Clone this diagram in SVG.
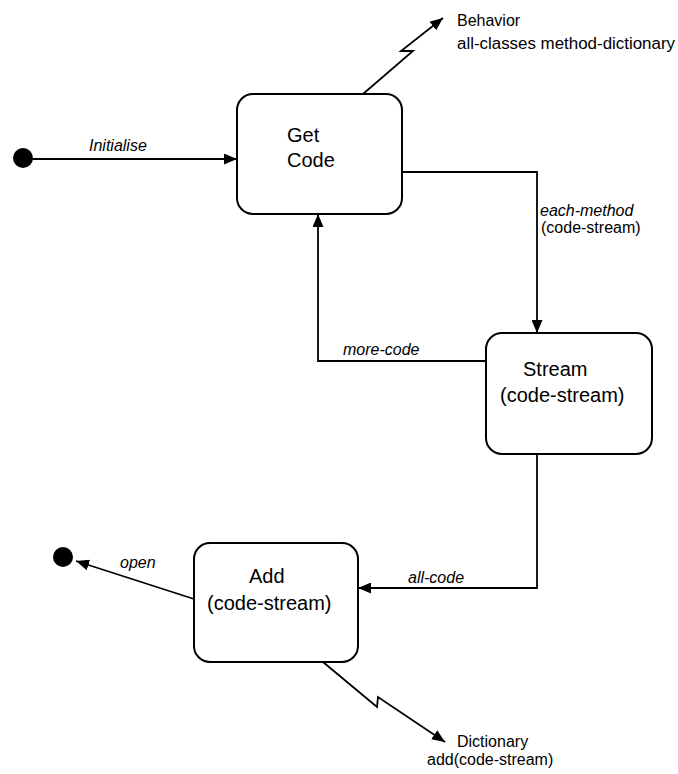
<svg xmlns="http://www.w3.org/2000/svg" width="678" height="774" viewBox="0 0 678 774">
  <defs>
    <marker id="arr" viewBox="0 0 13 11" refX="13" refY="5.5" markerWidth="13" markerHeight="11" markerUnits="userSpaceOnUse" orient="auto">
      <path d="M0,0 L13,5.5 L0,11 z" fill="#000"/>
    </marker>
  </defs>
  <style>
    .state { fill: #fff; stroke: #000; stroke-width: 2; }
    .conn { fill: none; stroke: #000; stroke-width: 1.8; marker-end: url(#arr); }
    .name { font-family: "Liberation Sans", Arial, sans-serif; font-size: 20px; fill: #000; }
    .lbl { font-family: "Liberation Sans", Arial, sans-serif; font-size: 16px; fill: #000; }
    .ev { font-family: "Liberation Sans", Arial, sans-serif; font-size: 16px; font-style: italic; fill: #000; }
    .dot { fill: #000; }
  </style>
  <rect width="678" height="774" fill="#fff"/>

  <g id="connectors">
    <path class="conn" d="M32,159 L237,159"/>
    <path class="conn" d="M363,94 L413,51 L401,51 L443,18"/>
    <path class="conn" d="M402,172 L537,172 L537,333"/>
    <path class="conn" d="M486,361 L318,361 L318,214"/>
    <path class="conn" d="M537,454 L537,588 L358,588"/>
    <path class="conn" d="M194,599 L76,561"/>
    <path class="conn" d="M323,662 L377,707 L378,697 L445,742"/>
    <text class="ev" x="89" y="151" font-size="15">Initialise</text>
    <text class="ev" x="540" y="216">each-method</text>
    <text class="lbl" x="541" y="233">(code-stream)</text>
    <text class="ev" x="343" y="355" font-size="16.5">more-code</text>
    <text class="ev" x="408" y="583" font-size="15.5">all-code</text>
    <text class="ev" x="120" y="568">open</text>
  </g>

  <g id="initial">
    <circle class="dot" cx="23" cy="158" r="10"/>
  </g>

  <g id="final">
    <circle class="dot" cx="63" cy="557" r="10"/>
  </g>

  <g id="get-code">
    <rect class="state" x="237" y="94" width="165" height="120" rx="16" ry="16"/>
    <text class="name" x="287" y="142">Get</text>
    <text class="name" x="287" y="167">Code</text>
  </g>

  <g id="stream">
    <rect class="state" x="486" y="333" width="166" height="121" rx="16" ry="16"/>
    <text class="name" x="523" y="376">Stream</text>
    <text class="name" x="500" y="402">(code-stream)</text>
  </g>

  <g id="add">
    <rect class="state" x="194" y="543" width="164" height="119" rx="16" ry="16"/>
    <text class="name" x="249" y="583">Add</text>
    <text class="name" x="207" y="610">(code-stream)</text>
  </g>

  <g id="behavior">
    <text class="lbl" x="457" y="26" font-size="16.5">Behavior</text>
    <text class="lbl" x="457" y="49" textLength="218" lengthAdjust="spacingAndGlyphs">all-classes method-dictionary</text>
  </g>

  <g id="dictionary">
    <text class="lbl" x="457" y="747" font-size="16.5">Dictionary</text>
    <text class="lbl" x="427" y="765" font-size="16.5">add(code-stream)</text>
  </g>
</svg>
